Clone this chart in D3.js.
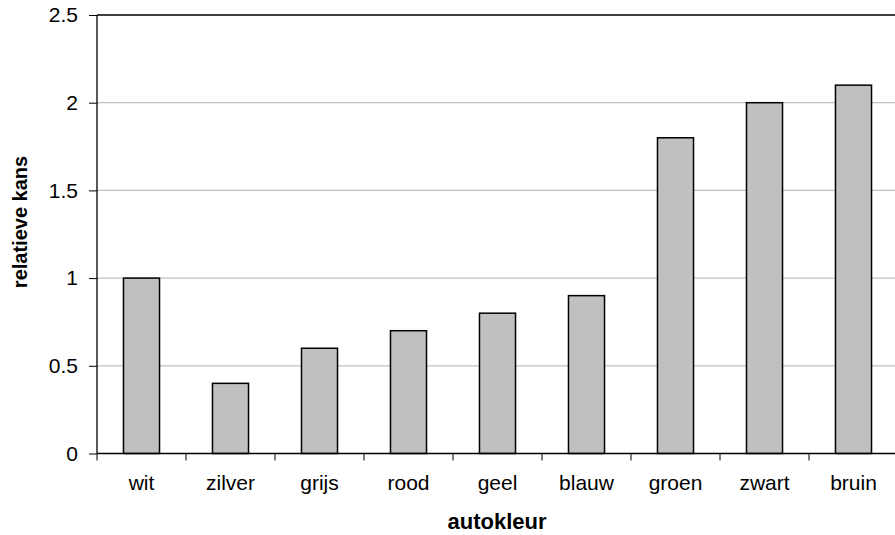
<!DOCTYPE html>
<html>
<head>
<meta charset="utf-8">
<script src="https://cdn.jsdelivr.net/npm/d3@7"></script>
<style>
  html, body { margin: 0; padding: 0; background: #fff; }
  svg { display: block; }
  text { font-family: "Liberation Sans", Arial, sans-serif; }
</style>
</head>
<body>
<svg id="chart" width="895" height="535"></svg>
<script>
const categories = ["wit", "zilver", "grijs", "rood", "geel", "blauw", "groen", "zwart", "bruin"];
const values = [1.0, 0.4, 0.6, 0.7, 0.8, 0.9, 1.8, 2.0, 2.1];
const yTicks = [0, 0.5, 1, 1.5, 2, 2.5];
const yTickLabels = ["0", "0.5", "1", "1.5", "2", "2.5"];
const xTitle = "autokleur";
const yTitle = "relatieve kans";

const svg = d3.select("#chart");
const pLeft = 97, pRight = 898, pTop = 15, pBottom = 453.5;

const x = d3.scaleBand().domain(categories).range([pLeft, pRight]).padding(0);
const y = d3.scaleLinear().domain([0, 2.5]).range([pBottom, pTop]);

// gridlines
svg.append("g").selectAll("line")
  .data(yTicks.filter(t => t > 0 && t < 2.5))
  .join("line")
  .attr("x1", pLeft).attr("x2", pRight)
  .attr("y1", d => y(d)).attr("y2", d => y(d))
  .attr("stroke", "#c0c0c0").attr("stroke-width", 1.3);

// top border
svg.append("line")
  .attr("x1", pLeft).attr("x2", pRight)
  .attr("y1", y(2.5)).attr("y2", y(2.5))
  .attr("stroke", "#000").attr("stroke-width", 1.3);

// bars
const bw = x.bandwidth() * 0.405;
svg.append("g").selectAll("rect")
  .data(categories)
  .join("rect")
  .attr("x", d => x(d) + x.bandwidth() / 2 - bw / 2)
  .attr("width", bw)
  .attr("y", (d, i) => y(values[i]))
  .attr("height", (d, i) => y(0) - y(values[i]))
  .attr("fill", "#c0c0c0")
  .attr("stroke", "#000")
  .attr("stroke-width", 1.5);

// y axis
const yAxis = d3.axisLeft(y)
  .tickValues(yTicks)
  .tickFormat((d, i) => yTickLabels[i])
  .tickSize(8)
  .tickPadding(11);
const gy = svg.append("g").attr("transform", `translate(${pLeft},0)`).call(yAxis);
gy.select(".domain").attr("stroke", "#000").attr("stroke-width", 1.3).attr("d", `M0,${pTop}V${pBottom}`);
gy.selectAll(".tick line").attr("stroke", "#000").attr("stroke-width", 1);
gy.selectAll(".tick text").attr("font-size", 21).attr("fill", "#000")
  .attr("font-family", "Liberation Sans, Arial, sans-serif");

// x axis
const xAxis = d3.axisBottom(x).tickSize(0).tickPadding(22);
const gx = svg.append("g").attr("transform", `translate(0,${pBottom})`).call(xAxis);
gx.select(".domain").attr("stroke", "#000").attr("stroke-width", 1.3).attr("d", `M${pLeft},0H${pRight}`);
gx.selectAll(".tick text").attr("font-size", 21).attr("fill", "#000")
  .attr("font-family", "Liberation Sans, Arial, sans-serif");
// boundary tick marks between categories
gx.append("g").selectAll("line")
  .data(categories)
  .join("line")
  .attr("x1", d => x(d)).attr("x2", d => x(d))
  .attr("y1", 0).attr("y2", 7)
  .attr("stroke", "#000").attr("stroke-width", 1);

// titles
svg.append("text")
  .attr("x", 497).attr("y", 529)
  .attr("text-anchor", "middle")
  .attr("font-size", 22).attr("font-weight", "bold")
  .text(xTitle);

svg.append("text")
  .attr("transform", "translate(27,222) rotate(-90)")
  .attr("text-anchor", "middle")
  .attr("font-size", 20).attr("font-weight", "bold")
  .text(yTitle);
</script>
</body>
</html>
